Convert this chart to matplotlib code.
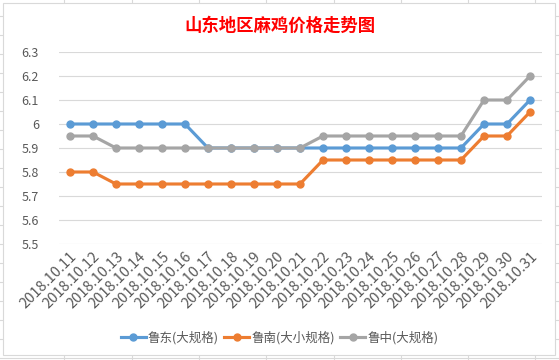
import matplotlib
matplotlib.use("Agg")
from matplotlib import pyplot as plt
from matplotlib.lines import Line2D
from matplotlib.patches import Rectangle

plt.rcParams['font.family'] = ['Noto Sans CJK SC', 'DejaVu Sans']

dates = ["2018.10.%d" % d for d in range(11, 32)]
ludong = [6.0, 6.0, 6.0, 6.0, 6.0, 6.0, 5.9, 5.9, 5.9, 5.9, 5.9,
          5.9, 5.9, 5.9, 5.9, 5.9, 5.9, 5.9, 6.0, 6.0, 6.1]
lunan = [5.8, 5.8, 5.75, 5.75, 5.75, 5.75, 5.75, 5.75, 5.75, 5.75, 5.75,
         5.85, 5.85, 5.85, 5.85, 5.85, 5.85, 5.85, 5.95, 5.95, 6.05]
luzhong = [5.95, 5.95, 5.9, 5.9, 5.9, 5.9, 5.9, 5.9, 5.9, 5.9, 5.9,
           5.95, 5.95, 5.95, 5.95, 5.95, 5.95, 5.95, 6.1, 6.1, 6.2]
series_names = ["鲁东(大规格)", "鲁南(大小规格)", "鲁中(大规格)"]
colors = ["#5B9BD5", "#ED7D31", "#A5A5A5"]
yticks = [5.5, 5.6, 5.7, 5.8, 5.9, 6.0, 6.1, 6.2, 6.3]


def main():
    fig = plt.figure(figsize=(5.59, 3.6), dpi=100)
    fig.patch.set_facecolor("white")

    # spreadsheet cell grid behind the chart
    W, H = 559, 360
    for x in [64, 132, 199, 266, 334, 401, 468, 535]:
        fig.add_artist(Line2D([x / W, x / W], [0, 1], color="#D9D9D9", lw=0.8, zorder=-3))
    for y in range(16, 360, 19):
        fig.add_artist(Line2D([0, 1], [1 - y / H, 1 - y / H], color="#D9D9D9", lw=0.8, zorder=-3))
    fig.add_artist(Rectangle((3 / W, 1 - 355 / H), 552 / W, 352 / H,
                             facecolor="white", edgecolor="#D9D9D9", lw=0.8, zorder=-2))

    ax = fig.add_axes([58.5 / W, 1 - 244 / H, 483 / W, 192 / H])
    ax.patch.set_alpha(0)
    x = list(range(len(dates)))
    for vals, name, c in zip([ludong, lunan, luzhong], series_names, colors):
        ax.plot(x, vals, color=c, lw=2.25, marker="o", markersize=5, label=name)

    ax.set_xlim(-0.5, len(dates) - 0.5)
    ax.set_ylim(5.5, 6.3)
    ax.set_yticks(yticks)
    ax.set_yticklabels(["%g" % v for v in yticks])
    ax.set_xticks(x)
    ax.set_xticklabels(dates, rotation=45, ha="right", rotation_mode="anchor")
    ax.tick_params(axis="both", length=0, labelsize=9, colors="#595959")
    ax.tick_params(axis="x", labelsize=10.5, pad=4)
    ax.tick_params(axis="y", pad=14)
    ax.grid(axis="y", color="#D9D9D9", lw=0.8)
    ax.set_axisbelow(True)
    for s in ax.spines.values():
        s.set_visible(False)

    fig.text(0.5, 1 - 26 / H, "山东地区麻鸡价格走势图", color="red",
             fontsize=12.5, fontweight="bold", ha="center", va="center")

    fig.legend(loc="center", bbox_to_anchor=(0.5, 1 - 338 / H), ncol=3,
               frameon=False, fontsize=9, labelcolor="#595959",
               handlelength=2.0, columnspacing=0.4, handletextpad=0.2)

    fig.savefig("out.png", dpi=100)


if __name__ == "__main__":
    main()
